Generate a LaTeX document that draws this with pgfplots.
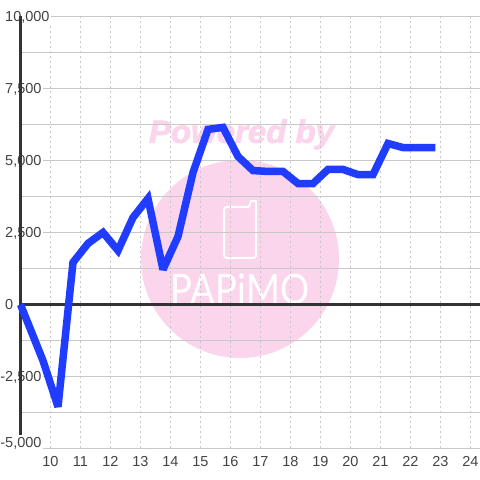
\documentclass[border=0pt]{standalone}
\usepackage{pgfplots}
\pgfplotsset{compat=1.18}
\usepackage{fontspec}
\setmainfont{Liberation Sans}
\newfontfamily\thinf{Lato}
\newfontfamily\wmf[BoldItalicFeatures={FakeBold=2.5}]{Liberation Sans}
\definecolor{wm}{HTML}{FBD5EC}
\definecolor{gridc}{HTML}{C8C8C8}
\definecolor{axisc}{HTML}{333333}
\definecolor{labelc}{HTML}{444444}
\definecolor{linec}{HTML}{1F3CFF}
\newcommand{\fs}{\fontsize{14.5}{16}\selectfont}
\begin{document}
\begin{tikzpicture}[x=1pt,y=1pt]
\clip (0,0) rectangle (480,480);
\fill[white] (0,0) rectangle (480,480);
% watermark (y measured from the top)
\fill[wm] (240,221) circle (99);
\node[text=wm,font=\wmf\fontsize{32}{34}\selectfont\bfseries\itshape,xscale=1.03,inner sep=0] at (241.5,345.5) {Powered by};
\draw[white,line width=2pt,line join=round] (249,273) -- (251,279) -- (256,279) -- (256,226) [rounded corners=3pt] -- (256,222) -- (224,222) -- (224,273) -- (249,273);
\node[text=white,font=\thinf\fontsize{42}{44}\selectfont,xscale=.87,inner sep=0,anchor=base] at (240,175) {PAPiMO};
\begin{axis}[
  at={(20.5pt,31.5pt)}, anchor=south west,
  scale only axis, width=459.5pt, height=432pt,
  xmin=9, xmax=24.317, ymin=-5000, ymax=10000,
  axis line style={draw=none},
  clip=false, scaled ticks=false,
  /pgf/number format/assume math mode=true,
  xtick={10,...,24}, xmajorgrids,
  ytick={-5000,-2500,0,2500,5000,7500,10000},
  yticklabels={{},{\llap{-}2,500},{0},{2,500},{5,000},{7,500},{10,000}},
  minor ytick={-3750,-1250,1250,3750,6250,8750},
  ymajorgrids, yminorgrids,
  major tick length=0pt, minor tick length=0pt,
  x grid style={gridc,line width=1pt,dash pattern=on 2pt off 3pt},
  grid style={gridc,line width=1pt},
  y grid style={gridc,line width=1pt},
  minor y grid style={gridc,line width=1pt},
  ticklabel style={font=\fs,text=labelc},
  xticklabel style={text height=10.5pt,inner sep=0pt,anchor=north,yshift=-7pt},
  yticklabel style={anchor=west,xshift=-17pt,fill=white,inner xsep=1.5pt,inner ysep=0pt,text height=12pt,text depth=2pt},
]
\addplot[axisc,line width=3.5pt,forget plot] coordinates {(9,-5000) (9,10000)};
\addplot[axisc,line width=3.5pt,forget plot] coordinates {(9,0) (24.317,0)};
\addplot[linec,line width=7.5pt,line join=miter,miter limit=3] coordinates {
(9,0) (9.75,-1950) (10.25,-3550) (10.75,1460) (11.25,2120) (11.75,2500) (12.25,1875) (12.75,3020) (13.25,3680) (13.75,1215) (14.25,2360) (14.75,4580) (15.25,6080) (15.75,6150) (16.25,5140) (16.75,4650) (17.25,4620) (17.75,4620) (18.25,4200) (18.75,4200) (19.25,4690) (19.75,4690) (20.25,4510) (20.75,4510) (21.25,5590) (21.75,5450) (22.25,5450) (22.83,5450)};
\node[anchor=west,fill=white,inner xsep=1.5pt,inner ysep=0pt,text height=12pt,text depth=2pt,font=\fs,text=labelc] at (axis cs:9,-5000) [xshift=-17pt,yshift=6pt] {\llap{-}5,000};
\end{axis}
\end{tikzpicture}
\end{document}
